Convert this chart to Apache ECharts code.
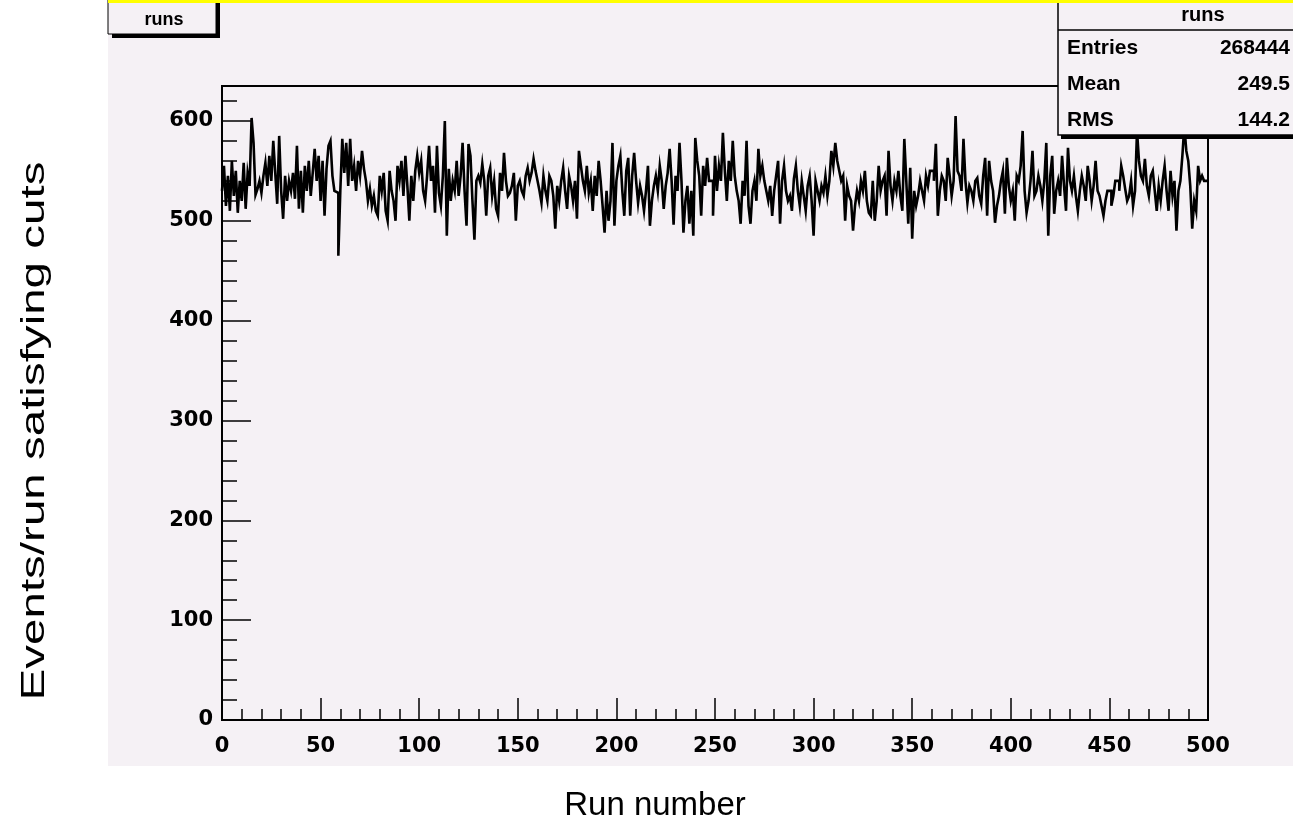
<!DOCTYPE html>
<html>
<head>
<meta charset="utf-8">
<script src="https://cdn.jsdelivr.net/npm/echarts@6/dist/echarts.min.js"></script>
<style>
html,body{margin:0;padding:0;background:#fff;}
#c{width:1293px;height:840px;}
</style>
</head>
<body>
<div id="c"></div>
<script>
// Events per run (500 bins, run 0..499)
const binCounts = [
530,555,515,545,510,560,525,550,508,540,
520,558,512,548,535,603,578,526,532,540,
528,545,558,535,565,540,580,548,517,585,
530,502,545,520,540,530,548,522,575,512,
550,508,555,530,560,525,548,572,540,565,
520,560,505,552,575,580,545,530,528,465,
530,582,548,578,535,582,540,555,530,560,
545,570,552,540,520,532,515,525,510,505,
545,530,548,510,500,550,530,520,500,555,
540,560,525,565,535,500,545,520,550,565,
548,560,530,520,545,575,540,555,508,575,
528,515,545,600,485,552,520,540,530,560,
525,545,578,530,495,577,565,520,481,540,
545,538,557,540,505,545,553,525,540,512,
505,548,530,568,540,525,528,535,548,500,
535,540,530,525,545,553,540,548,562,550,
540,530,518,545,530,520,545,540,525,492,
535,520,540,553,530,512,545,535,520,540,
502,570,555,540,530,555,528,540,510,545,
525,560,540,515,488,530,500,520,578,495,
540,555,565,530,505,550,563,505,545,568,
540,518,535,525,510,530,555,495,520,535,
545,530,555,540,512,535,548,572,540,496,
545,530,578,540,488,520,535,497,530,485,
583,560,545,505,555,535,563,540,540,505,
565,530,555,540,588,550,520,560,540,580,
545,530,520,497,540,525,580,515,497,530,
540,520,572,545,555,540,530,520,535,505,
530,545,560,497,540,555,530,520,525,510,
542,555,530,515,540,525,510,535,545,520,
485,540,530,520,535,528,545,525,540,570,
555,578,560,550,540,545,500,535,525,520,
490,515,530,520,540,530,550,520,508,505,
540,500,520,555,530,540,545,505,570,535,
520,540,530,550,525,510,582,540,497,553,
482,530,515,525,540,530,520,545,535,550,
550,540,577,505,530,545,540,520,563,545,
525,540,605,550,545,530,582,540,518,535,
530,520,540,543,525,517,545,563,505,560,
540,530,498,515,525,540,550,507,563,535,
520,530,500,545,540,555,590,530,508,520,
540,570,525,530,545,535,520,540,578,485,
545,565,507,530,540,525,565,535,510,573,
540,530,545,525,510,530,545,535,520,555,
540,520,535,560,530,525,515,505,520,530,
530,515,525,540,540,530,555,545,532,520,
525,540,515,530,590,560,545,540,562,535,
525,545,550,530,510,535,520,540,555,530,
510,550,525,540,490,530,540,565,595,570,
560,535,492,520,510,555,540,545,540,540
];
const histName = 'runs';
const statsLabels = ['Entries', 'Mean', 'RMS'];
const statsValues = ['268444', '249.5', '144.2'];
const xTitle = 'Run number';
const yTitle = 'Events/run satisfying cuts';
const xMin = 0, xMax = 500, xMajor = 50;
const yMin = 0, yMax = 635, yMajor = 100, yMinor = 20;

const pts = binCounts.map((v, i) => [i, v]);
pts.push([binCounts.length, binCounts[binCounts.length - 1]]);

const FONT = 'Liberation Sans, Arial, Helvetica, sans-serif';
const TICKFONT = 'DejaVu Sans, Liberation Sans, sans-serif';
const BG = '#f5f1f5';
const chart = echarts.init(document.getElementById('c'), null, {renderer: 'canvas'});

const G = {left: 222, top: 86, width: 986, height: 634};

const lbl = {color: '#000', fontFamily: TICKFONT, fontWeight: 'bold', fontSize: 21};

const statsGraphics = [];
const sbX = 1058, sbW = 235;
statsGraphics.push({type: 'rect', z: 20, shape: {x: sbX + 3, y: 0, width: sbW, height: 139}, style: {fill: '#000'}});
statsGraphics.push({type: 'rect', z: 21, shape: {x: sbX, y: -2, width: sbW + 5, height: 137}, style: {fill: BG, stroke: '#000', lineWidth: 1.5}});
statsGraphics.push({type: 'line', z: 22, shape: {x1: sbX, y1: 30, x2: 1293, y2: 30}, style: {stroke: '#000', lineWidth: 1.5}});
statsGraphics.push({type: 'text', z: 22, x: 1203, y: 15, style: {text: histName, font: 'bold 20px ' + FONT, fill: '#000', textAlign: 'center', textVerticalAlign: 'middle'}});
statsLabels.forEach((s, i) => {
  const yy = 48 + i * 36;
  statsGraphics.push({type: 'text', z: 22, x: 1067, y: yy, style: {text: s, font: 'bold 21px ' + FONT, fill: '#000', textAlign: 'left', textVerticalAlign: 'middle'}});
  statsGraphics.push({type: 'text', z: 22, x: 1290, y: yy, style: {text: statsValues[i], font: 'bold 21px ' + FONT, fill: '#000', textAlign: 'right', textVerticalAlign: 'middle'}});
});

const option = {
  animation: false,
  backgroundColor: '#fff',
  grid: {left: G.left, top: G.top, width: G.width, height: G.height, show: true, borderColor: '#000', borderWidth: 2, backgroundColor: 'transparent'},
  xAxis: {
    type: 'value', min: xMin, max: xMax, interval: xMajor,
    axisLine: {show: true, lineStyle: {color: '#000', width: 2}},
    axisTick: {show: true, inside: true, length: 22, lineStyle: {color: '#000', width: 1.5}},
    minorTick: {show: true, splitNumber: 5, length: 11, lineStyle: {color: '#000', width: 1.5}},
    splitLine: {show: false},
    axisLabel: Object.assign({margin: 16}, lbl)
  },
  yAxis: [{
    type: 'value', min: yMin, max: yMax, interval: yMajor, position: 'left',
    axisLine: {show: true, lineStyle: {color: '#000', width: 2}},
    axisTick: {show: true, inside: true, length: 29, lineStyle: {color: '#000', width: 1.5}},
    splitLine: {show: false},
    axisLabel: Object.assign({margin: 9, showMaxLabel: false}, lbl)
  }, {
    type: 'value', min: yMin, max: yMax, interval: yMinor, position: 'left', offset: 0,
    axisLine: {show: false},
    axisTick: {show: true, inside: true, length: 15, lineStyle: {color: '#000', width: 1.5}},
    splitLine: {show: false},
    axisLabel: {show: false}
  }],
  series: [{
    type: 'line', step: 'end', data: pts, symbol: 'none', clip: true, z: 5,
    lineStyle: {color: '#000', width: 2.6, join: 'miter'}
  }],
  graphic: [
    {type: 'rect', z: -10, shape: {x: 108, y: 0, width: 1185, height: 766}, style: {fill: BG}},
    {type: 'rect', z: 30, shape: {x: 108, y: 0, width: 1185, height: 3}, style: {fill: '#ffff00'}},
    // title box
    {type: 'rect', z: 20, shape: {x: 112, y: 0, width: 108, height: 38}, style: {fill: '#000'}},
    {type: 'rect', z: 21, shape: {x: 108, y: -2, width: 108, height: 36}, style: {fill: BG, stroke: '#000', lineWidth: 1}},
    {type: 'text', z: 22, x: 164, y: 20, style: {text: histName, font: 'bold 18px ' + FONT, fill: '#000', textAlign: 'center', textVerticalAlign: 'middle'}},
    // axis titles
    {type: 'text', z: 22, x: 655, y: 806, style: {text: xTitle, font: '33px ' + FONT, fill: '#000', textAlign: 'center', textVerticalAlign: 'middle'}},
    {type: 'text', z: 22, x: 35, y: 431, rotation: Math.PI / 2, scaleX: 1.44, style: {text: yTitle, font: '33px ' + FONT, fill: '#000', textAlign: 'center', textVerticalAlign: 'middle'}}
  ].concat(statsGraphics)
};
chart.setOption(option);
</script>
</body>
</html>
